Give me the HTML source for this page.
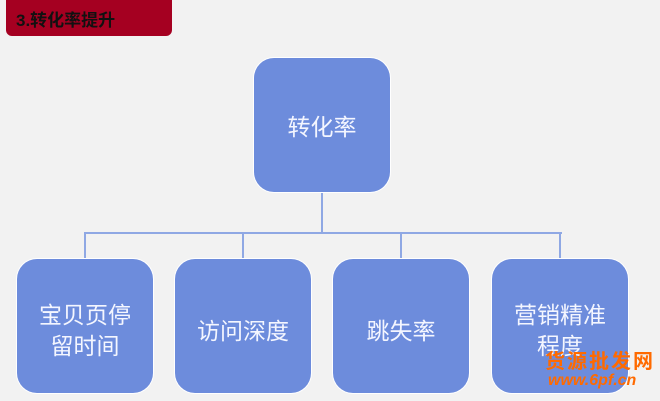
<!DOCTYPE html>
<html><head><meta charset="utf-8"><style>
body{margin:0;width:660px;height:401px;background:#f2f2f2;position:relative;overflow:hidden;font-family:"Liberation Sans","Noto Sans CJK SC",sans-serif}
.hdr{position:absolute;left:6px;top:-6px;width:166px;height:42px;background:#a50021;border-radius:6px;}
.hdr span{position:absolute;left:10px;top:12px;font-size:17px;font-weight:bold;color:#111}
.n{position:absolute;background:#6d8cdc;border-radius:20px;color:#f4f6ff;font-size:23px;display:flex;align-items:center;justify-content:center;text-align:center;line-height:31px;box-shadow:0 0 0 1px #fff}
.l{position:absolute;background:#8fa8e4}
</style></head><body>
<div class="hdr"><span>3.转化率提升</span></div>
<div class="l" style="left:321px;top:192px;width:2px;height:42px"></div>
<div class="l" style="left:84px;top:232px;width:478px;height:2px"></div>
<div class="l" style="left:84px;top:232px;width:2px;height:28px"></div>
<div class="l" style="left:242px;top:232px;width:2px;height:28px"></div>
<div class="l" style="left:400px;top:232px;width:2px;height:28px"></div>
<div class="l" style="left:559px;top:232px;width:2px;height:28px"></div>
<div class="n" style="left:254px;top:58px;width:136px;height:134px;padding-top:4px;box-sizing:border-box">转化率</div>
<div class="n" style="left:17px;top:259px;width:136px;height:134px;padding-top:10px;box-sizing:border-box">宝贝页停<br>留时间</div>
<div class="n" style="left:175px;top:259px;width:136px;height:134px;padding-top:10px;box-sizing:border-box">访问深度</div>
<div class="n" style="left:333px;top:259px;width:136px;height:134px;padding-top:10px;box-sizing:border-box">跳失率</div>
<div class="n" style="left:492px;top:259px;width:136px;height:134px;padding-top:10px;box-sizing:border-box">营销精准<br>程度</div>
<div style="position:absolute;left:545px;top:345px;font-size:20px;color:#ff6a00;font-weight:bold;letter-spacing:2px">货源批发网</div>
<div style="position:absolute;left:548px;top:372px;font-size:16px;color:#ff6a00;font-weight:bold;font-style:italic">www.6pf.cn</div>
</body></html>
